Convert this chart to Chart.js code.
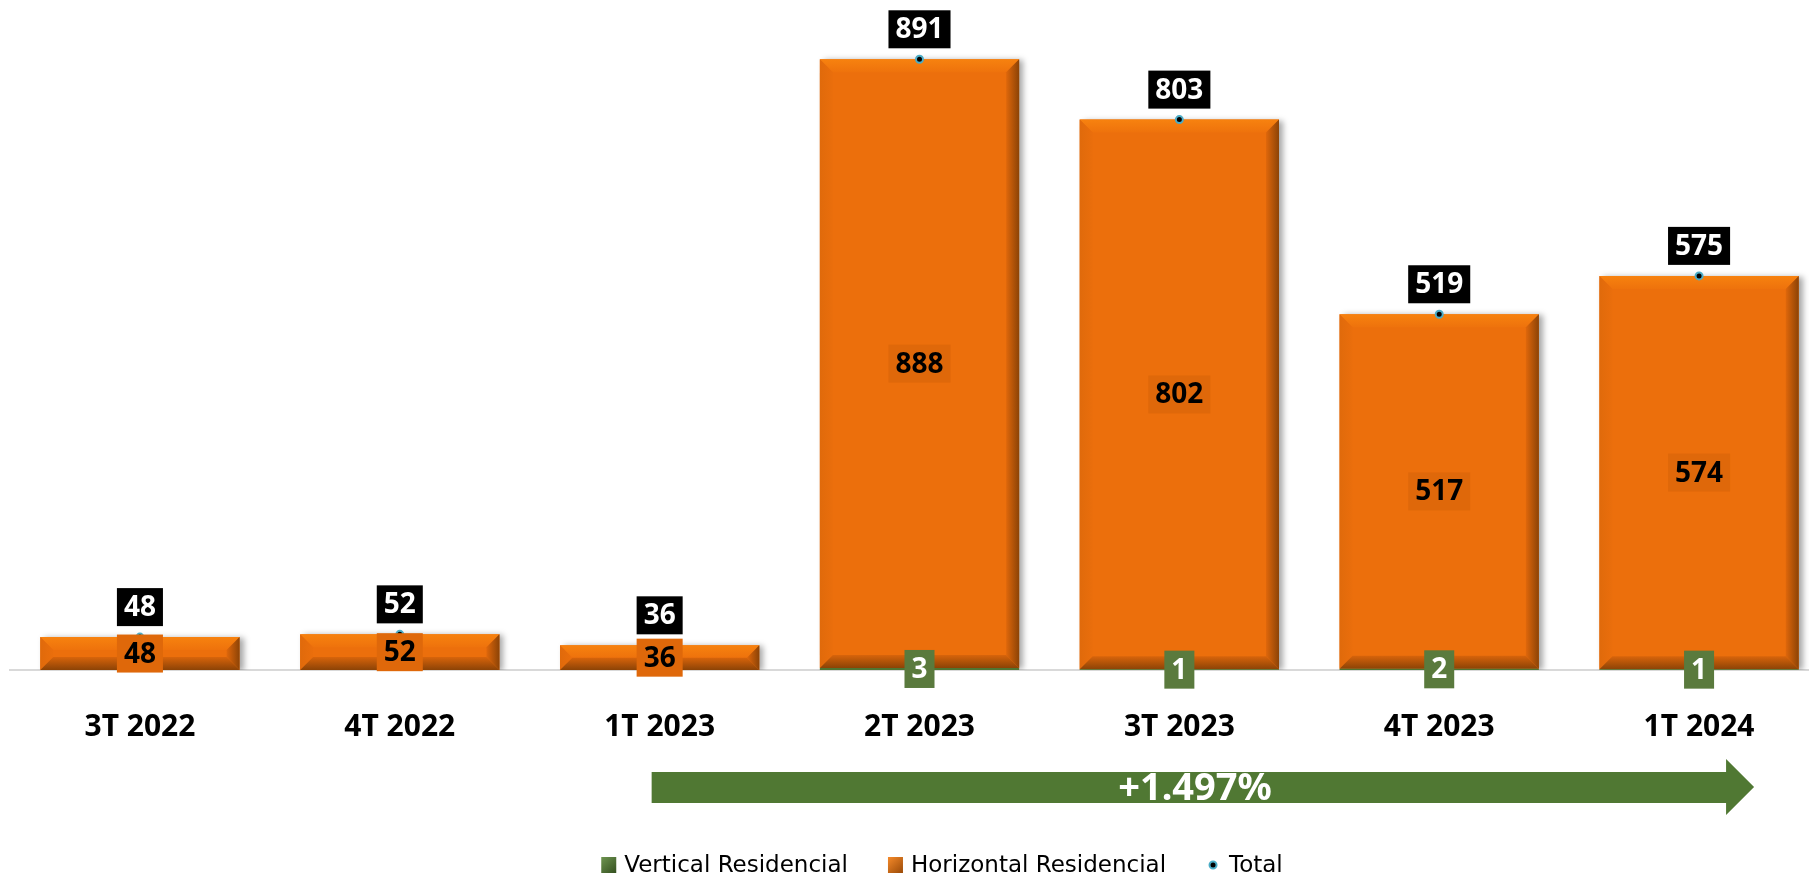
<!DOCTYPE html>
<html>
<head>
<meta charset="utf-8">
<script src="https://cdn.jsdelivr.net/npm/chart.js@4"></script>
<style>
  html, body { margin: 0; padding: 0; background: #fff; overflow: hidden; width: 1809px; height: 880px; }
  /* plot runs past the right edge like the original, so the canvas is a bit wider than the page */
  #wrap { width: 1835px; height: 880px; }
</style>
</head>
<body>
<div id="wrap"><canvas id="myChart"></canvas></div>
<script>
const categories = ['3T 2022', '4T 2022', '1T 2023', '2T 2023', '3T 2023', '4T 2023', '1T 2024']
const verticalResidencial = [0, 0, 0, 3, 1, 2, 1]
const horizontalResidencial = [48, 52, 36, 888, 802, 517, 574]
const totals = [48, 52, 36, 891, 803, 519, 575]
const growthText = '+1.497%'

const orange = '#EC6F0C'
const green = '#507532'
const numFont = 'bold 28px "Noto Sans"'

function box(ctx, text, x, y, bg, fg) {
  ctx.font = numFont
  const w = ctx.measureText(text).width + 14
  const h = 38
  ctx.fillStyle = bg
  ctx.fillRect(x - w / 2, y - h / 2, w, h)
  ctx.fillStyle = fg
  ctx.textAlign = 'center'
  ctx.textBaseline = 'middle'
  ctx.fillText(text, x, y + 1)
}

// excel-like bevel on the orange bars
const bevel = {
  id: 'bevel',
  beforeDatasetDraw(chart, args) {
    if (args.index !== 1) return
    const ctx = chart.ctx
    ctx.save()
    ctx.shadowColor = 'rgba(0,0,0,0.35)'
    ctx.shadowBlur = 6
    ctx.shadowOffsetX = 4
    ctx.shadowOffsetY = 1
  },
  afterDatasetDraw(chart, args) {
    if (args.index !== 1) return
    const ctx = chart.ctx
    ctx.restore()
    args.meta.data.forEach((el) => {
      const p = el.getProps(['x', 'y', 'base', 'width'], true)
      const x1 = p.x - p.width / 2, x2 = p.x + p.width / 2
      const y1 = Math.min(p.y, p.base), y2 = Math.max(p.y, p.base)
      const b = Math.min(13, (y2 - y1) / 2, p.width / 2)
      const poly = (pts, fill) => {
        ctx.beginPath()
        ctx.moveTo(pts[0][0], pts[0][1])
        pts.slice(1).forEach(q => ctx.lineTo(q[0], q[1]))
        ctx.closePath()
        ctx.fillStyle = fill
        ctx.fill()
      }
      let g = ctx.createLinearGradient(0, y1, 0, y1 + b)
      g.addColorStop(0, '#F7820F')
      g.addColorStop(1, '#EE720C')
      poly([[x1, y1], [x2, y1], [x2 - b, y1 + b], [x1 + b, y1 + b]], g)
      g = ctx.createLinearGradient(x1, 0, x1 + b, 0)
      g.addColorStop(0, '#E06A0B')
      g.addColorStop(1, '#EA6E0C')
      poly([[x1, y1], [x1 + b, y1 + b], [x1 + b, y2 - b], [x1, y2]], g)
      g = ctx.createLinearGradient(x2 - b, 0, x2, 0)
      g.addColorStop(0, '#DF670B')
      g.addColorStop(1, '#8C4306')
      poly([[x2, y1], [x2, y2], [x2 - b, y2 - b], [x2 - b, y1 + b]], g)
      g = ctx.createLinearGradient(0, y2 - b, 0, y2)
      g.addColorStop(0, '#D8640B')
      g.addColorStop(1, '#8C4306')
      poly([[x1, y2], [x1 + b, y2 - b], [x2 - b, y2 - b], [x2, y2]], g)
    })
  }
}

const labels = {
  id: 'labels',
  afterDatasetsDraw(chart) {
    const ctx = chart.ctx
    ctx.save()
    chart.data.datasets.forEach((ds, i) => {
      const meta = chart.getDatasetMeta(i)
      meta.data.forEach((el, j) => {
        const v = ds.data[j]
        if (!v) return
        if (ds.type === 'line') {
          box(ctx, String(v), el.x, el.y - 30, '#000', '#fff')
        } else {
          const p = el.getProps(['x', 'y', 'base'], true)
          const cy = (p.y + p.base) / 2
          if (i === 0) box(ctx, String(v), p.x, cy, '#5A7A3D', '#fff')
          else box(ctx, String(v), p.x, cy, '#DF680A', '#000')
        }
      })
    })
    ctx.restore()
  },
  afterDraw(chart) {
    const ctx = chart.ctx
    const xs = chart.scales.x
    ctx.save()
    // growth arrow
    const ax1 = xs.getPixelForValue(2) - 8
    const tip = xs.getPixelForValue(6) + 55
    const hx = tip - 28
    ctx.fillStyle = '#507833'
    ctx.beginPath()
    ctx.moveTo(ax1, 772)
    ctx.lineTo(hx, 772)
    ctx.lineTo(hx, 759)
    ctx.lineTo(tip, 787)
    ctx.lineTo(hx, 815)
    ctx.lineTo(hx, 803)
    ctx.lineTo(ax1, 803)
    ctx.closePath()
    ctx.fill()
    ctx.fillStyle = '#fff'
    ctx.font = 'bold 38px "Noto Sans"'
    ctx.textAlign = 'center'
    ctx.textBaseline = 'middle'
    ctx.fillText(growthText, 1195, 789)

    // legend
    ctx.font = '23px "DejaVu Sans"'
    ctx.textAlign = 'left'
    const items = chart.data.datasets.map(d => d.label)
    const widths = items.map(t => 23 + ctx.measureText(t).width)
    const gap = 40
    let x = 942 - (widths.reduce((a, b) => a + b, 0) + gap * (items.length - 1)) / 2
    const ly = 865
    items.forEach((t, k) => {
      if (k < 2) {
        const g = ctx.createLinearGradient(x, ly - 8, x + 15, ly + 8)
        g.addColorStop(0, k === 0 ? '#6E9450' : '#F58A2A')
        g.addColorStop(1, k === 0 ? '#34501F' : '#9A4A08')
        ctx.fillStyle = g
        ctx.fillRect(x, ly - 8, 15, 16)
      } else {
        ctx.beginPath()
        ctx.arc(x + 7, ly, 3.5, 0, Math.PI * 2)
        ctx.fillStyle = '#000'
        ctx.fill()
        ctx.lineWidth = 2
        ctx.strokeStyle = '#4BACC6'
        ctx.stroke()
      }
      ctx.fillStyle = '#000'
      ctx.fillText(t, x + 23, ly + 1)
      x += widths[k] + gap
    })
    ctx.restore()
  }
}

const ctx = document.getElementById('myChart')

new Chart(ctx, {
  data: {
    labels: categories,
    datasets: [
      {
        type: 'bar',
        label: 'Vertical Residencial',
        data: verticalResidencial,
        backgroundColor: green,
        stack: 'res',
        order: 1,
        barPercentage: 0.767,
        categoryPercentage: 1,
      },
      {
        type: 'bar',
        label: 'Horizontal Residencial',
        data: horizontalResidencial,
        backgroundColor: orange,
        stack: 'res',
        order: 1,
        barPercentage: 0.767,
        categoryPercentage: 1,
      },
      {
        type: 'line',
        label: 'Total',
        data: totals,
        stack: 'total',
        order: 0,
        showLine: false,
        pointRadius: 3.5,
        pointBorderWidth: 2,
        pointBackgroundColor: '#000',
        pointBorderColor: '#4BACC6',
      },
    ]
  },
  options: {
    responsive: true,
    maintainAspectRatio: false,
    animation: false,
    layout: { padding: { left: 10, right: 0, top: 12, bottom: 0 } },
    plugins: {
      legend: { display: false },
      tooltip: { enabled: false },
    },
    scales: {
      x: {
        stacked: true,
        grid: { display: false, drawTicks: false },
        border: { display: true, color: '#D9D9D9', width: 2 },
        ticks: {
          color: '#000',
          padding: 39,
          font: { family: 'Noto Sans', size: 30, weight: 'bold' },
        },
        afterFit(scale) { scale.height = 210 },
      },
      y: {
        stacked: true,
        display: false,
        min: 0,
        max: 960,
      }
    }
  },
  plugins: [bevel, labels]
})
</script>
</body>
</html>
